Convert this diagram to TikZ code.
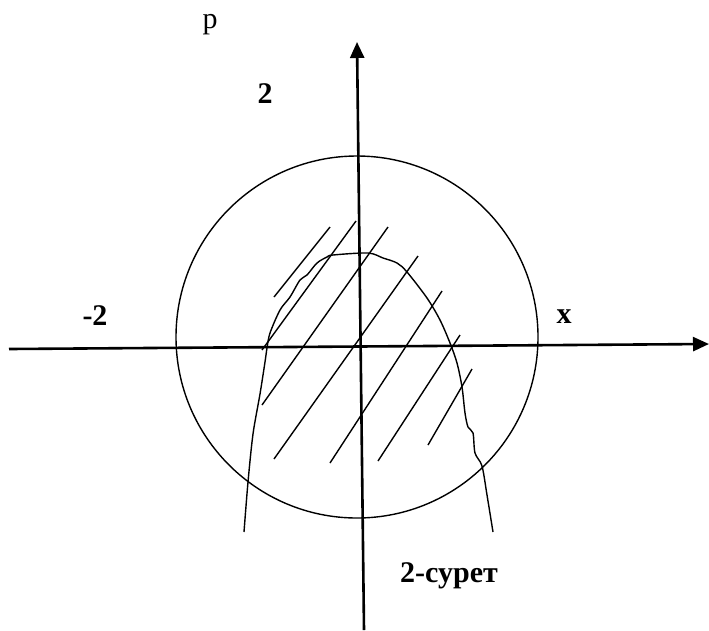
\documentclass[tikz,border=0pt]{standalone}
\usepackage{fontspec}
\setmainfont{Liberation Serif}
\usetikzlibrary{arrows.meta}
\tikzset{axis/.style={line width=2.6pt,-{Triangle[length=16pt,width=14pt]}},
  thin/.style={line width=1.4pt},
  hatch/.style={line width=1.4pt},
  lab/.style={font=\fontsize{30pt}{36pt}\selectfont\bfseries,anchor=base,inner sep=0pt},
  plain/.style={font=\fontsize{30pt}{36pt}\selectfont,anchor=base,inner sep=0pt}}

\begin{document}
\begin{tikzpicture}[x=1pt,y=-1pt]
\useasboundingbox (0,0) rectangle (709,630);
\coordinate (xstart) at (9,349);
\coordinate (xend) at (709,344);
\coordinate (pstart) at (364,630);
\coordinate (pend) at (357,42);
\draw[thin] (357,337) circle (181);
% hatch
\draw[hatch] (274,297) -- (330,227);
\draw[hatch] (262,350) -- (356,221);
\draw[hatch] (262,405) -- (388,227);
\draw[hatch] (274,459) -- (418,256);
\draw[hatch] (330,463) -- (442,291);
\draw[hatch] (378,461) -- (460,335);
\draw[hatch] (428,445) -- (472,369);
% curve
\draw[thin] plot[smooth,tension=0.5] coordinates {(244,532) (248,482) (253,434) (260,394)
  (265,362) (267,348) (270,333) (280,310) (290,297) (300,280) (307,275) (317,263)
  (327,257) (333,255) (368,253) (383,258) (397,263) (407,272) (427,298) (440,320)
  (450,343) (457,363) (462,387) (465,413) (468,427) (473,433) (475,453) (482,466)
  (487,495) (493,532)};
\draw[axis] (xstart) -- (xend);
\draw[axis] (pstart) -- (pend);
\node[plain] (plab) at (210,28) {p};
\node[lab] (ptwo) at (265,103) {2};
\node[lab] (xmtwo) at (95,325) {-2};
\node[lab] (xlab) at (564,323) {x};
\node[lab] (cap) at (449,582) {2-сурет};
\end{tikzpicture}
\end{document}
